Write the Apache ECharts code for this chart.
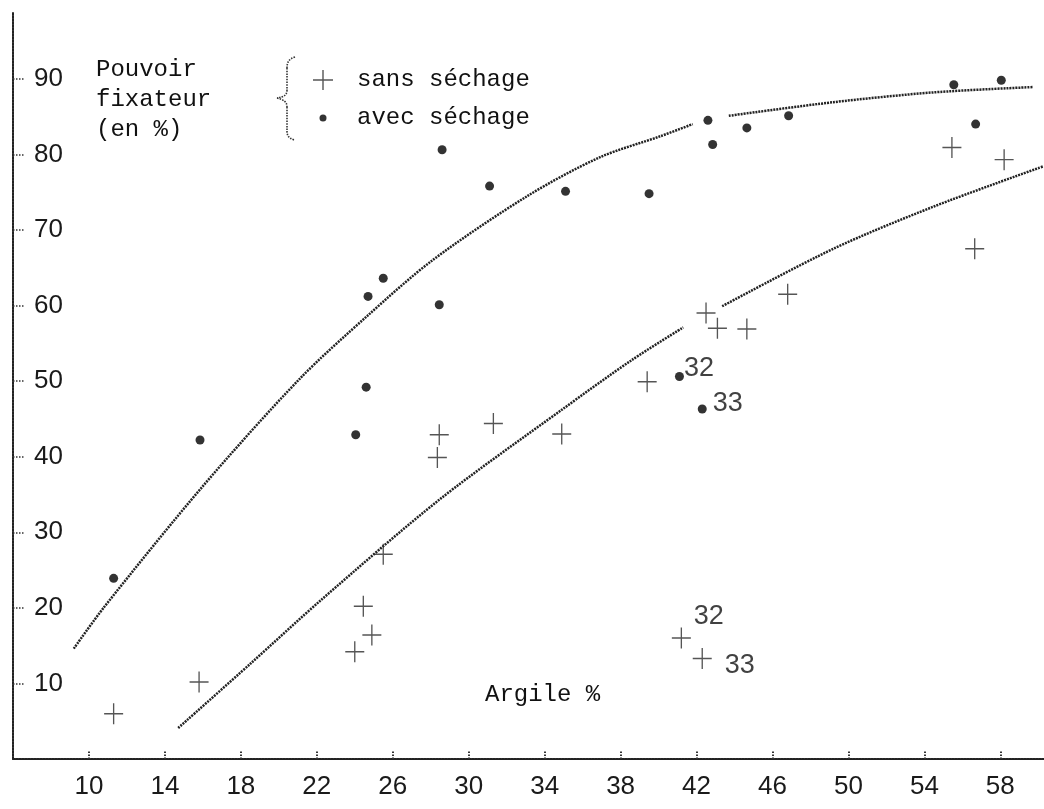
<!DOCTYPE html>
<html>
<head>
<meta charset="utf-8">
<title>Pouvoir fixateur / Argile</title>
<script src="https://cdn.jsdelivr.net/npm/echarts@6/dist/echarts.min.js"></script>
<style>
  html, body { margin: 0; padding: 0; background: #fff; }
  #chart { width: 1044px; height: 809px; }
</style>
</head>
<body>
<div id="chart"></div>
<script>
// [argile %, pouvoir fixateur %]
var sansSechage = [
  [11.3, 6.0], [15.8, 10.2], [24.0, 14.2], [24.45, 20.2], [24.9, 16.4],
  [25.5, 27.1], [28.35, 39.9], [28.45, 42.9], [31.3, 44.4], [34.9, 43.0],
  [39.4, 49.9], [42.5, 59.0], [43.1, 57.0], [44.65, 56.9], [46.8, 61.5],
  [55.45, 80.9], [56.65, 67.5], [58.2, 79.3], [41.2, 16.0], [42.3, 13.3]
];
var avecSechage = [
  [11.3, 23.9], [15.85, 42.2], [24.05, 42.9], [24.6, 49.2], [24.7, 61.2],
  [25.5, 63.6], [28.45, 60.1], [28.6, 80.6], [31.1, 75.8], [35.1, 75.1],
  [39.5, 74.8], [42.6, 84.5], [42.85, 81.3], [44.65, 83.5], [46.85, 85.1],
  [55.55, 89.2], [56.7, 84.0], [58.05, 89.8], [41.1, 50.6], [42.3, 46.3]
];
// echantillons numerotes (index du point -> numero)
var sansNumeros = { 18: "32", 19: "33" };
var avecNumeros = { 18: "32", 19: "33" };

// courbes tracees a la main (null = interruption du trait)
var courbeAvec = [
  [9.2, 14.6], [10.8, 20.1], [16.0, 36.1], [21.1, 50.3], [24.65, 58.6],
  [28.1, 66.0], [33.1, 74.5], [36.9, 79.6], [40.1, 82.4], [41.8, 84.0],
  null,
  [43.7, 85.1], [49.2, 86.9], [54.5, 88.2], [59.7, 88.9]
];
var courbeSans = [
  [14.7, 4.1], [18.5, 12.6], [22.3, 21.2], [28.5, 34.4], [34.9, 46.2],
  [38.6, 52.8], [41.3, 57.1],
  null,
  [43.35, 59.9], [49.2, 67.5], [54.5, 73.1], [60.25, 78.4]
];

var xTicks = [10, 14, 18, 22, 26, 30, 34, 38, 42, 46, 50, 54, 58];
var yTicks = [10, 20, 30, 40, 50, 60, 70, 80, 90];

var mono = '"Liberation Mono", "DejaVu Sans Mono", monospace';
var lettering = '"Liberation Sans Narrow", "Liberation Sans", sans-serif';
var crossPath = "path://M0,9.3h20v1.4h-20z M9.3,0h1.4v20h-1.4z";
var dotIcon = "path://M0,0M20,20M6.5,10A3.5,3.5,0,1,1,13.5,10A3.5,3.5,0,1,1,6.5,10Z";

// where the sample numbers sit next to their mark
var numLabelSans = {
  "32": { distance: 3, offset: [0, -22] },
  "33": { distance: 13, offset: [0, 7] }
};
var numLabelAvec = {
  "32": { distance: 0, offset: [0, -8] },
  "33": { distance: 6, offset: [0, -6] }
};

function withNumbers(points, numeros, placement) {
  return points.map(function (p, i) {
    var n = numeros[i];
    if (!n) return p;
    return {
      value: p,
      label: {
        show: true,
        formatter: n,
        position: "right",
        distance: placement[n].distance,
        offset: placement[n].offset,
        fontFamily: lettering,
        fontSize: 27,
        color: "#111"
      }
    };
  });
}

// accolade de la legende, en pointilles
var braceStyle = { fill: null, stroke: "#333", lineWidth: 1.6, lineDash: [1.5, 1.2] };
var brace = {
  type: "group",
  children: [
    { type: "bezierCurve", shape: { x1: 295, y1: 57, cpx1: 289, cpy1: 59, cpx2: 287, cpy2: 62, x2: 287, y2: 68 }, style: braceStyle },
    { type: "line", shape: { x1: 287, y1: 68, x2: 287, y2: 90 }, style: braceStyle },
    { type: "bezierCurve", shape: { x1: 287, y1: 90, cpx1: 287, cpy1: 95, cpx2: 284, cpy2: 97, x2: 277, y2: 98 }, style: braceStyle },
    { type: "bezierCurve", shape: { x1: 277, y1: 98, cpx1: 284, cpy1: 100, cpx2: 287, cpy2: 102, x2: 287, y2: 107 }, style: braceStyle },
    { type: "line", shape: { x1: 287, y1: 107, x2: 287, y2: 131 }, style: braceStyle },
    { type: "bezierCurve", shape: { x1: 287, y1: 131, cpx1: 287, cpy1: 136, cpx2: 289, cpy2: 138, x2: 294, y2: 140 }, style: braceStyle }
  ]
};

var chart = echarts.init(document.getElementById("chart"));

var dottedLine = { color: "#222", width: 2.5, type: [2, 1] };

chart.setOption({
  animation: false,
  backgroundColor: "#fff",
  grid: { left: 13, right: 0, top: 13, bottom: 50 },
  title: [
    {
      text: "Pouvoir\nfixateur\n(en %)",
      left: 96,
      top: 55,
      padding: 0,
      textStyle: { fontFamily: mono, fontSize: 24, fontWeight: "normal", lineHeight: 30, color: "#111" }
    },
    {
      text: "Argile %",
      left: 485,
      top: 683,
      padding: 0,
      textStyle: { fontFamily: mono, fontSize: 24, fontWeight: "normal", color: "#111" }
    }
  ],
  legend: {
    orient: "vertical",
    left: 313,
    top: 68,
    padding: 0,
    itemGap: 14,
    itemWidth: 20,
    itemHeight: 20,
    selectedMode: false,
    textStyle: { fontFamily: mono, fontSize: 24, lineHeight: 24, color: "#111", padding: [0, 0, 0, 19] },
    data: [
      { name: "sans séchage", icon: crossPath },
      { name: "avec séchage", icon: dotIcon }
    ]
  },
  graphic: [brace],
  xAxis: {
    type: "value",
    min: 6,
    max: 60.3,
    splitLine: { show: false },
    axisLine: { lineStyle: { color: "#222", width: 2, type: [2, 1] } },
    axisTick: { inside: true, length: 9, customValues: xTicks, lineStyle: { color: "#333", width: 2, type: [1.5, 1.5] } },
    axisLabel: { customValues: xTicks, margin: 15, fontFamily: lettering, fontSize: 26, color: "#1a1a1a" }
  },
  yAxis: {
    type: "value",
    min: 0,
    max: 98.7,
    splitLine: { show: false },
    axisLine: { show: true, lineStyle: { color: "#222", width: 2, type: [2, 1] } },
    axisTick: { show: true, inside: true, length: 12, customValues: yTicks, lineStyle: { color: "#333", width: 1.5, type: [1.5, 1.5] } },
    axisLabel: { inside: true, customValues: yTicks, margin: 21, fontFamily: lettering, fontSize: 26, color: "#1a1a1a" }
  },
  series: [
    {
      name: "courbe avec",
      type: "line",
      data: courbeAvec,
      symbol: "none",
      smooth: 0.3,
      silent: true,
      z: 1,
      lineStyle: dottedLine
    },
    {
      name: "courbe sans",
      type: "line",
      data: courbeSans,
      symbol: "none",
      smooth: 0.3,
      silent: true,
      z: 1,
      lineStyle: dottedLine
    },
    {
      name: "sans séchage",
      type: "scatter",
      symbol: crossPath,
      symbolSize: [19, 21],
      itemStyle: { color: "#2a2a2a" },
      z: 3,
      data: withNumbers(sansSechage, sansNumeros, numLabelSans)
    },
    {
      name: "avec séchage",
      type: "scatter",
      symbol: "circle",
      symbolSize: 9,
      itemStyle: { color: "#000" },
      z: 3,
      data: withNumbers(avecSechage, avecNumeros, numLabelAvec)
    }
  ]
});
</script>
</body>
</html>
